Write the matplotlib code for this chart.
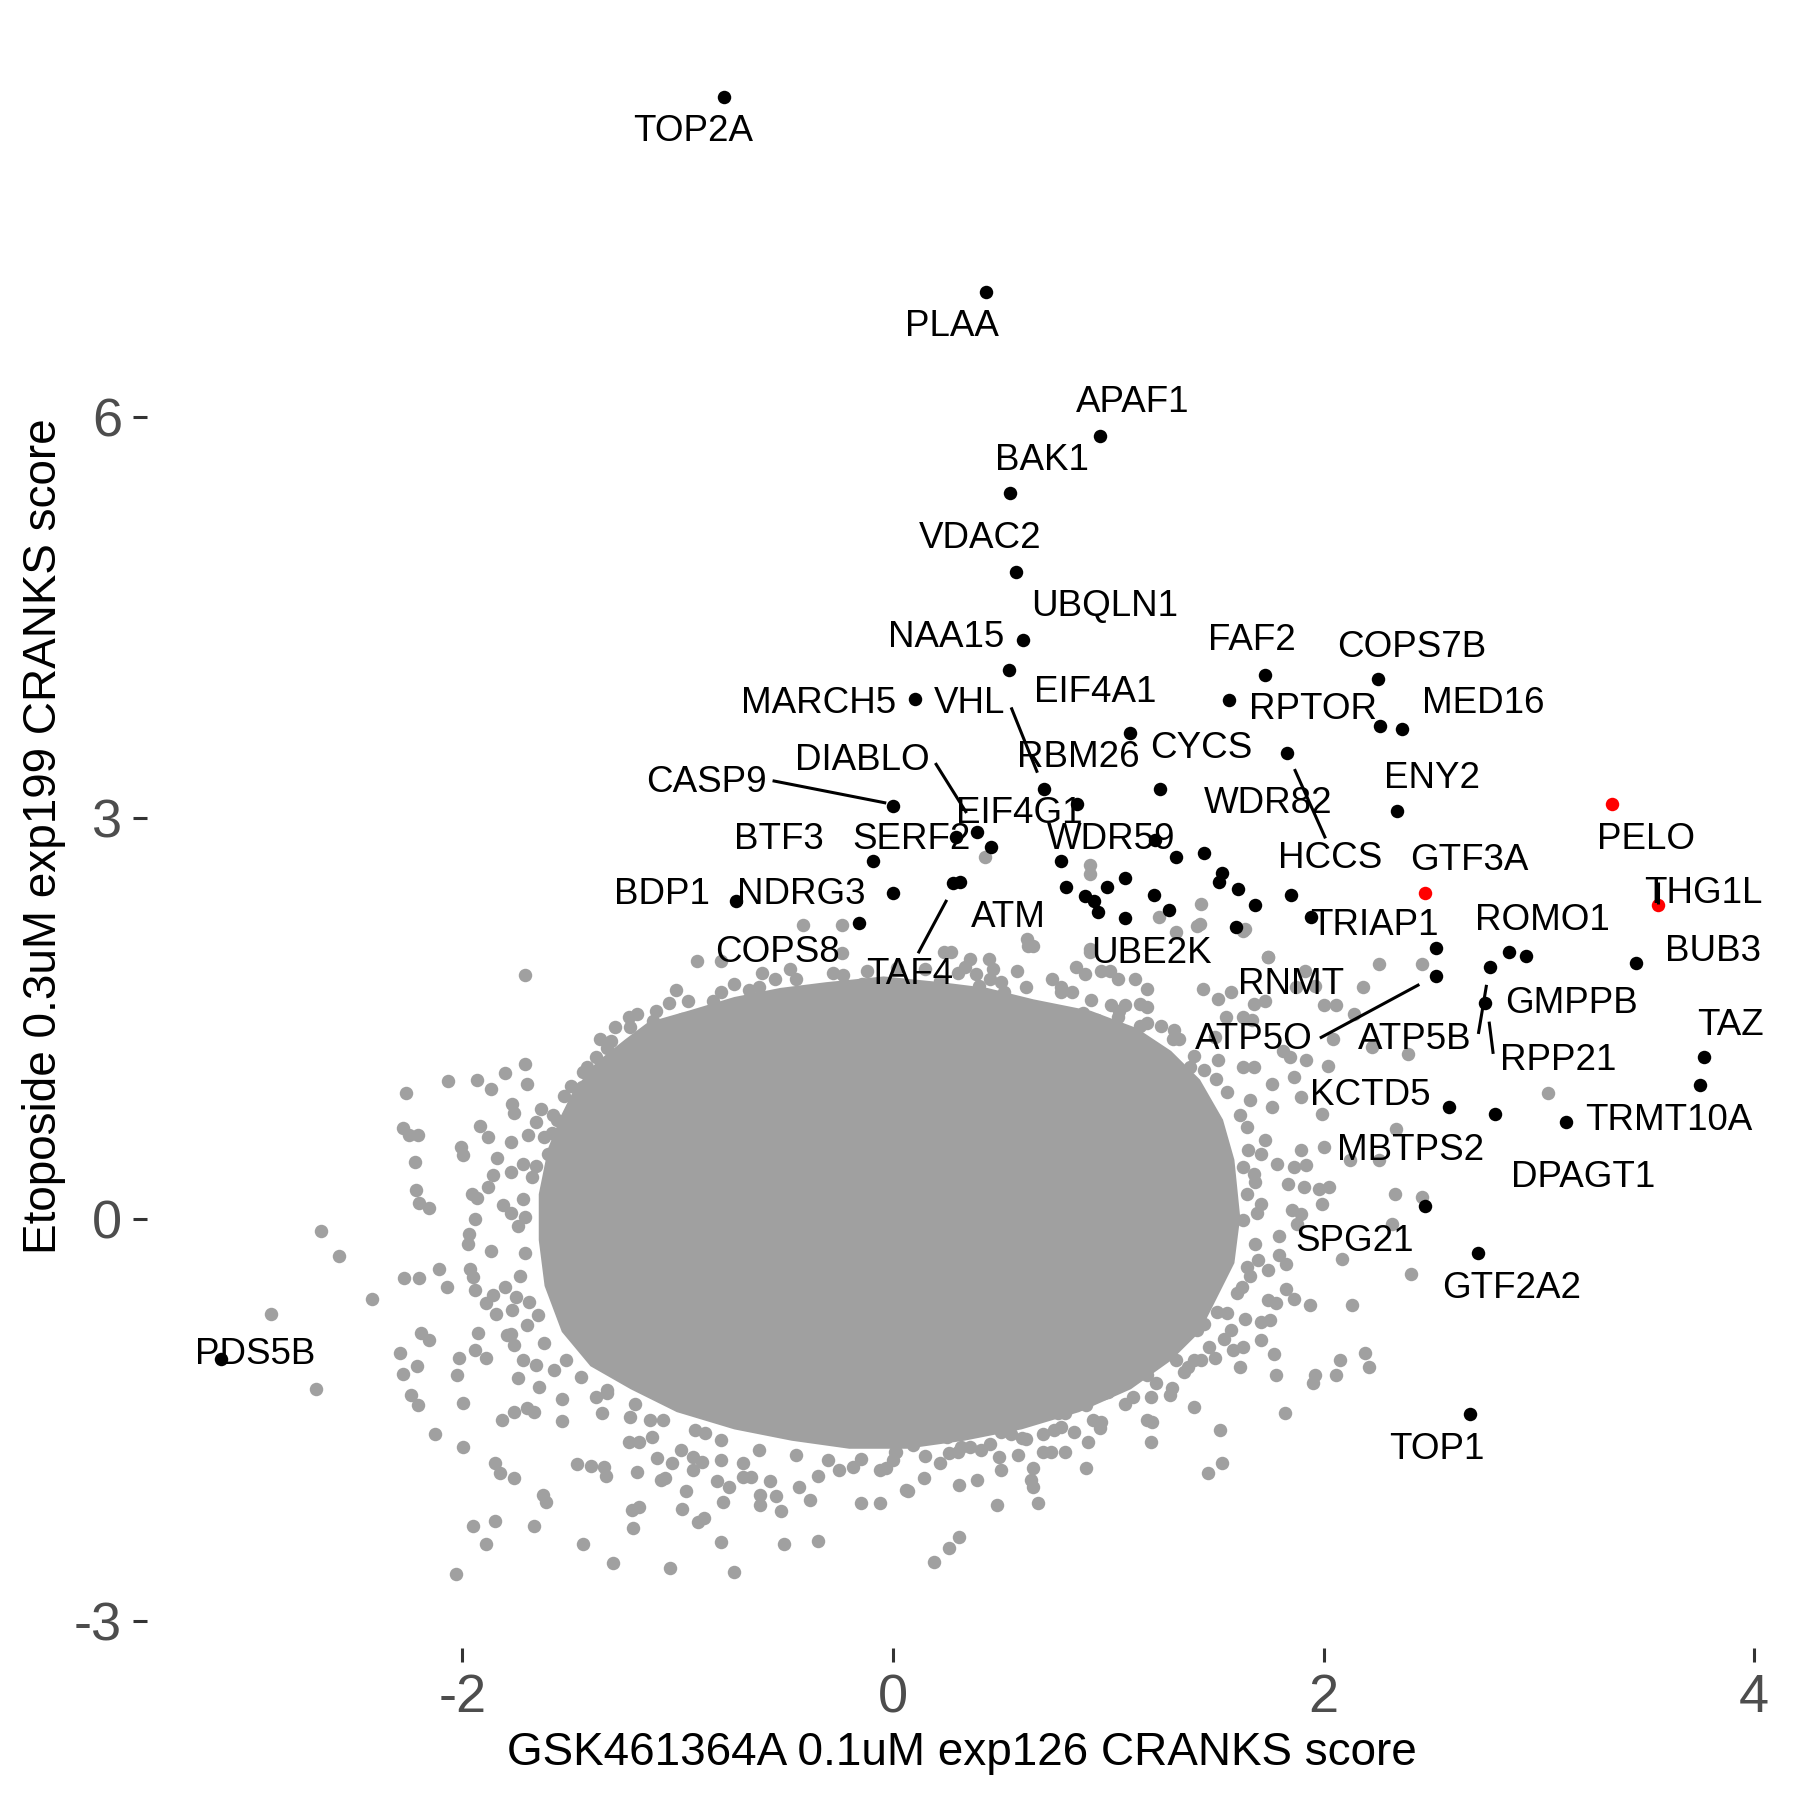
import numpy as np
import matplotlib
matplotlib.use("Agg")
import matplotlib.pyplot as plt

plt.rcParams['font.family'] = ['Liberation Sans', 'DejaVu Sans']
plt.rcParams['axes.unicode_minus'] = False

GREY = '#a0a0a0'

# genes above threshold (black points)
hit_x = [-0.785, 0.432, 0.961, 0.542, 0.57, 0.602, 0.540, 0.104, 1.73, 1.561,
         1.102, 1.832, 0.703, 0.855, 1.242, 0.001, 0.392, 0.294, 0.455, -0.093,
         1.219, 1.313, 1.443, 0.782, 1.53, 1.516, 1.601, 1.681, 1.85, 1.08,
         0.993, 0.804, 0.89, 0.934, 0.952, 1.077, 1.214, 1.281, 1.592, 0.277,
         0.31, 0.001, -0.731, -0.159, 2.251, 2.261, 2.363, 2.341, 1.943, 2.522,
         2.522, 2.862, 2.94, 2.773, 3.452, 2.75, 3.765, 3.749, 2.585, 2.798,
         3.124, 2.473, 2.718, 2.681, -3.12]
hit_y = [8.388, 6.934, 5.857, 5.428, 4.84, 4.335, 4.109, 3.892, 4.074, 3.887,
         3.636, 3.49, 3.215, 3.106, 3.215, 3.093, 2.90, 2.862, 2.787, 2.683,
         2.837, 2.712, 2.74, 2.683, 2.59, 2.526, 2.471, 2.354, 2.426, 2.553,
         2.488, 2.488, 2.421, 2.384, 2.297, 2.252, 2.426, 2.314, 2.19, 2.515,
         2.52, 2.438, 2.38, 2.214, 4.037, 3.686, 3.666, 3.054, 2.259, 2.033,
         1.821, 2.003, 1.971, 1.891, 1.921, 1.62, 1.217, 1.003, 0.84, 0.789,
         0.729, 0.1, -0.249, -1.457, -1.044]

# highlighted genes (red points)
red_x = [3.342, 2.471, 3.552]
red_y = [3.103, 2.444, 2.352]

# gene labels
lab_text = ['TOP2A', 'PLAA', 'APAF1', 'BAK1', 'VDAC2', 'UBQLN1', 'NAA15', 'COPS7B',
            'FAF2', 'MED16', 'RPTOR', 'MARCH5', 'VHL', 'EIF4A1', 'CYCS', 'RBM26',
            'DIABLO', 'CASP9', 'ENY2', 'WDR82', 'EIF4G1', 'PELO', 'BTF3', 'SERF2',
            'WDR59', 'HCCS', 'GTF3A', 'THG1L', 'BDP1', 'NDRG3', 'ATM', 'TRIAP1',
            'ROMO1', 'BUB3', 'COPS8', 'UBE2K', 'TAF4', 'RNMT', 'GMPPB', 'TAZ',
            'ATP5O', 'ATP5B', 'RPP21', 'KCTD5', 'TRMT10A', 'MBTPS2', 'DPAGT1',
            'SPG21', 'GTF2A2', 'PDS5B', 'TOP1']
lab_x = [-0.928, 0.272, 1.114, 0.694, 0.407, 0.983, 0.246, 2.409,
         1.666, 2.74, 1.949, -0.347, 0.358, 0.94, 1.431, 0.86,
         -0.144, -0.865, 2.505, 1.741, 0.587, 3.498, -0.529, 0.085,
         1.015, 2.029, 2.675, 3.765, -1.073, -0.427, 0.534, 2.238,
         3.017, 3.808, -0.534, 1.202, 0.08, 1.848, 3.151, 3.888,
         1.677, 2.425, 3.092, 2.216, 3.605, 2.403, 3.204,
         2.142, 2.873, -2.964, 2.526]
lab_y = [8.13, 6.673, 6.105, 5.677, 5.093, 4.585, 4.354, 4.277,
         4.328, 3.857, 3.814, 3.857, 3.857, 3.943, 3.523, 3.454,
         3.428, 3.266, 3.30, 3.111, 3.034, 2.837, 2.837, 2.837,
         2.837, 2.70, 2.683, 2.434, 2.426, 2.426, 2.254, 2.194,
         2.237, 2.006, 1.997, 1.989, 1.834, 1.757, 1.611, 1.449,
         1.346, 1.346, 1.191, 0.926, 0.737, 0.514, 0.317,
         -0.163, -0.514, -1.011, -1.723]

# label leader lines (x0, y0, x1, y1)
seg = [(0.549, 3.828, 0.671, 3.34), (-0.559, 3.28, -0.031, 3.113),
       (0.197, 3.412, 0.342, 3.039), (0.25, 2.389, 0.117, 1.99),
       (1.865, 3.367, 2.009, 2.849), (1.983, 1.356, 2.445, 1.757),
       (2.757, 1.754, 2.719, 1.387), (2.769, 1.479, 2.788, 1.238),
       (3.552, 2.52, 3.552, 2.36)]

# outline of the saturated centre of the gray cloud
core_x = [-1.645, -1.602, -1.538, -1.485, -1.378, -1.244, -1.138, -0.951, -0.737, -0.523,
          -0.31, -0.043, 0.224, 0.438, 0.652, 0.919, 1.132, 1.292, 1.426, 1.533,
          1.586, 1.613, 1.586, 1.506, 1.426, 1.292, 1.105, 0.865, 0.598, 0.331,
          0.064, -0.203, -0.47, -0.737, -1.004, -1.218, -1.405, -1.538, -1.618, -1.645]
core_y = [0.189, 0.531, 0.789, 0.96, 1.174, 1.346, 1.474, 1.56, 1.663, 1.731,
          1.774, 1.817, 1.774, 1.731, 1.646, 1.56, 1.431, 1.26, 1.046, 0.746,
          0.446, 0.017, -0.326, -0.583, -0.84, -1.054, -1.269, -1.44, -1.569, -1.654,
          -1.714, -1.714, -1.654, -1.569, -1.44, -1.269, -1.097, -0.84, -0.497, -0.154]

# genes crowding the rim of the centre
gray_rim = [
    (-1.72, 0.15), (-1.74, -0.05), (-1.71, -0.25), (-1.73, -0.42), (-1.69, -0.62),
    (-1.66, 0.40), (-1.62, 0.62), (-1.62, -0.92), (-1.52, -1.05), (-1.45, -1.18),
    (-1.33, -1.30), (-1.20, -1.38), (-1.07, -1.50), (-0.92, -1.57), (-0.80, -1.65),
    (-0.62, -1.72), (-0.45, -1.76), (-0.30, -1.80), (-0.15, -1.79), (0.0, -1.80),
    (0.15, -1.77), (0.30, -1.74), (0.45, -1.68), (0.62, -1.64), (0.78, -1.55),
    (0.93, -1.50), (1.08, -1.38), (1.22, -1.22), (1.35, -1.14), (1.47, -0.95),
    (1.55, -0.70), (1.60, -0.55), (1.66, -0.42), (1.68, -0.18), (1.69, 0.05),
    (1.68, 0.28), (1.65, 0.52), (1.61, 0.78), (1.55, 0.95), (1.50, 1.05),
    (1.40, 1.22), (1.30, 1.35), (1.18, 1.47), (1.05, 1.56), (0.92, 1.64),
    (0.78, 1.70), (0.62, 1.74), (0.45, 1.80), (0.30, 1.84), (0.15, 1.87),
    (0.02, 1.88), (-0.12, 1.86), (-0.28, 1.84), (-0.45, 1.80), (-0.62, 1.74),
    (-0.80, 1.70), (-0.95, 1.63), (-1.10, 1.56), (-1.22, 1.44), (-1.33, 1.28),
    (-1.44, 1.10), (-1.53, 0.92), (-1.58, 0.78),
]

# scattered gray genes around the centre
gray_upper_left = [
    (-1.709, 1.824), (-0.91, 1.93), (-0.797, 1.93), (-0.419, 2.205), (-0.236, 2.205),
    (-0.236, 1.99), (-0.606, 1.841), (-0.478, 1.873), (-0.739, 1.762), (-0.548, 1.80),
    (-0.233, 1.824), (-0.142, 1.762), (-1.009, 1.717), (-0.838, 1.637), (-0.668, 1.712),
    (-0.403, 1.692), (-0.558, 1.612), (-1.038, 1.617), (-0.98, 1.50), (-1.187, 1.537),
    (-1.228, 1.512), (-1.291, 1.442), (-1.361, 1.35), (-1.311, 1.333), (-1.115, 1.487),
    (-1.07, 1.412), (-0.865, 1.437), (-0.797, 1.487), (-0.706, 1.412), (-1.378, 1.214),
    (-1.419, 1.139), (-1.494, 0.997), (-1.444, 0.99), (-1.286, 1.09), (-1.179, 1.09),
    (-1.245, 0.99), (-1.195, 0.965), (-1.105, 0.99), (-1.709, 1.164), (-1.8, 1.097),
    (-1.93, 1.04), (-1.867, 0.978), (-1.7, 1.015), (-2.066, 1.035), (-2.26, 0.947),
    (-2.277, 0.686), (-2.247, 0.629), (-2.208, 0.629), (-2.221, 0.43), (-2.215, 0.223),
    (-2.2, 0.123), (-2.153, 0.088), (-1.767, 0.865), (-1.762, 0.795), (-1.916, 0.696),
    (-1.883, 0.617), (-2.005, 0.54), (-1.995, 0.48), (-1.775, 0.579), (-1.697, 0.629),
    (-1.659, 0.729), (-1.634, 0.828), (-1.838, 0.462), (-1.717, 0.417), (-1.858, 0.33),
    (-1.775, 0.355), (-1.676, 0.318), (-1.883, 0.242), (-1.957, 0.193), (-1.933, 0.163),
    (-1.809, 0.11), (-1.775, 0.05), (-1.942, 0.006), (-1.967, -0.111), (-1.709, 0.021),
    (-1.56, 0.741), (-1.504, 0.753), (-1.585, 0.65), (-1.52, 0.6), (-1.6, 0.49),
    (-1.378, 0.69), (-1.336, 0.828), (-2.658, -0.085), (-2.575, -0.276),
]
gray_upper_right = [
    (0.235, 1.998), (0.268, 1.998), (0.359, 1.948), (0.447, 1.948), (0.625, 2.047),
    (0.575, 1.86), (0.334, 1.886), (0.384, 1.836), (0.467, 1.873), (0.5, 1.774),
    (0.4, 1.749), (0.218, 1.786), (0.301, 1.662), (0.483, 1.662), (0.517, 1.699),
    (0.583, 1.599), (0.658, 1.525), (0.741, 1.799), (0.782, 1.736), (0.848, 1.886),
    (0.89, 1.836), (0.832, 1.699), (0.915, 1.998), (0.965, 1.86), (1.006, 1.86),
    (1.047, 1.799), (1.122, 1.799), (1.18, 1.724), (0.881, 1.54), (0.948, 1.49),
    (1.047, 1.515), (1.014, 1.6), (1.08, 1.6), (1.147, 1.612), (1.18, 1.587),
    (0.766, 1.515), (1.147, 1.45), (1.247, 1.45), (1.305, 1.413), (1.33, 1.351),
    (1.213, 1.263), (1.442, 1.724), (1.512, 1.649), (1.57, 1.699), (1.744, 1.961),
    (1.628, 2.16), (1.413, 2.197), (2.258, 1.911), (2.458, 1.911), (2.184, 1.736),
    (2.0, 1.6), (2.059, 1.6), (2.143, 1.537), (1.678, 1.612), (1.728, 1.637),
    (1.545, 1.515), (1.628, 1.515), (1.67, 1.49), (1.495, 1.363), (1.81, 1.263),
    (1.844, 1.214), (1.918, 1.189), (2.044, 1.351), (2.019, 1.151), (2.225, 1.289),
    (2.391, 1.239), (1.379, 1.139), (1.446, 1.114), (1.512, 1.189), (1.628, 1.139),
    (1.678, 1.139), (1.761, 1.015), (1.761, 0.84), (1.861, 1.065), (1.894, 0.915),
    (1.658, 0.89), (1.994, 0.791), (2.335, 0.679), (2.002, 0.542), (1.894, 0.517),
    (1.786, 0.417), (1.861, 0.393), (1.918, 0.405), (2.125, 0.443), (2.258, 0.443),
    (1.836, 0.268), (1.911, 0.243), (1.977, 0.23), (2.027, 0.243), (2.332, 0.193),
    (2.458, 0.168), (1.852, 0.068), (1.894, 0.043), (1.994, 0.118), (1.645, 0.691),
    (1.728, 0.592), (1.711, 0.492), (1.628, 0.393), (1.678, 0.343), (1.878, -0.032),
    (2.317, -0.032), (1.645, 0.193), (1.711, 0.118), (1.562, 0.043), (1.628, -0.007),
    (1.794, -0.12), (0.428, 2.708), (0.917, 2.653), (0.917, 2.586), (1.432, 2.362),
    (1.236, 2.26), (1.428, 2.21), (1.317, 2.15), (1.636, 2.172), (1.743, 1.96),
    (0.623, 2.098), (0.65, 2.048), (0.913, 2.023), (1.914, 1.861), (1.87, 1.736),
    (1.959, 1.749), (3.042, 0.942),
]
gray_lower_right = [
    (2.084, -0.292), (2.408, -0.404), (2.134, -0.64), (1.935, -0.64), (1.827, -0.516),
    (1.861, -0.591), (1.744, -0.604), (1.778, -0.628), (2.192, -0.997), (2.209, -1.101),
    (2.076, -1.047), (2.059, -1.164), (1.96, -1.164), (1.952, -1.226), (1.819, -1.445),
    (1.778, -1.164), (1.769, -1.002), (1.611, -1.101), (1.495, -1.032), (1.396, -1.4),
    (1.52, -1.574), (1.528, -1.818), (1.462, -1.898), (1.296, -1.263), (1.288, -1.313),
    (1.197, -1.325), (1.18, -1.164), (1.18, -1.5), (1.205, -1.512), (1.197, -1.661),
    (1.396, -1.052), (1.048, -1.226), (0.998, -1.288), (1.114, -1.325), (1.01, -1.121),
    (0.89, -1.375), (0.965, -1.512), (0.961, -1.562), (0.84, -1.587), (0.906, -1.661),
    (0.898, -1.861), (0.765, -1.45), (0.799, -1.45), (0.699, -1.6), (0.749, -1.574),
    (0.799, -1.736), (0.699, -1.736), (0.732, -1.736), (0.65, -1.861), (0.641, -1.948),
    (0.65, -1.998), (0.674, -2.122), (0.583, -1.761), (0.6, -1.637), (0.55, -1.6),
    (0.5, -1.587), (0.492, -1.773), (0.5, -1.873), (0.484, -2.135), (0.409, -1.724),
    (0.359, -1.699), (0.318, -1.699), (0.392, -1.948), (0.309, -1.985), (0.26, -1.749),
    (0.218, -1.823), (0.251, -1.624), (0.144, -1.935), (0.061, -2.022), (0.094, -1.686),
    (0.011, -1.736), (0.309, -2.371), (0.26, -2.458), (0.193, -2.558), (1.57, -0.828),
    (1.537, -0.89), (1.637, -0.741), (1.711, -0.766), (1.753, -0.753), (1.711, -0.903),
    (1.628, -0.952), (1.578, -0.977), (1.62, -0.504), (1.645, -0.355), (1.695, -0.305),
    (1.744, -0.38), (1.794, -0.268), (1.827, -0.33), (1.313, -1.052), (1.371, -1.101),
    (1.429, -1.052), (1.503, -0.691), (1.446, -0.64), (1.413, -0.828), (1.446, -0.778),
    (1.13, -1.002), (0.981, -1.3), (1.014, -1.25), (0.898, -1.387), (0.848, -1.325),
]
gray_lower_left = [
    (-2.419, -0.598), (-2.27, -0.434), (-2.199, -0.434), (-2.107, -0.367), (-2.07, -0.504),
    (-1.974, -0.185), (-1.866, -0.235), (-1.966, -0.367), (-1.949, -0.429), (-1.941, -0.529),
    (-2.19, -0.852), (-2.157, -0.902), (-2.289, -0.997), (-2.276, -1.156), (-2.21, -1.096),
    (-2.24, -1.313), (-2.207, -1.388), (-2.129, -1.607), (-1.999, -1.375), (-1.999, -1.699),
    (-2.016, -1.039), (-2.024, -1.164), (-1.941, -0.977), (-1.892, -1.039), (-1.925, -0.847),
    (-1.892, -0.628), (-1.858, -0.566), (-1.842, -0.703), (-1.767, -0.678), (-1.8, -0.504),
    (-1.751, -0.579), (-1.792, -0.866), (-1.775, -0.853), (-1.758, -0.941), (-1.7, -0.79),
    (-1.649, -0.715), (-1.742, -1.188), (-1.717, -1.052), (-1.659, -1.089), (-1.576, -1.126),
    (-1.642, -1.25), (-1.817, -1.5), (-1.759, -1.437), (-1.701, -1.412), (-1.668, -1.437),
    (-1.538, -1.345), (-1.538, -1.505), (-1.848, -1.823), (-1.826, -1.893), (-1.759, -1.935),
    (-1.627, -2.06), (-1.61, -2.109), (-1.95, -2.291), (-1.85, -2.251), (-1.668, -2.289),
    (-1.892, -2.428), (-2.03, -2.652), (-1.469, -1.828), (-1.402, -1.843), (-1.344, -1.853),
    (-1.331, -1.918), (-1.439, -2.428), (-1.298, -2.57), (-1.037, -2.607), (-0.739, -2.637),
    (-0.797, -2.409), (-0.507, -2.426), (-0.349, -2.401), (-0.147, -2.122), (-0.059, -2.122),
    (0.07, -2.027), (-1.211, -2.172), (-1.181, -2.147), (-1.208, -2.309), (-1.187, -1.886),
    (-1.079, -1.948), (-1.059, -1.935), (-0.979, -2.167), (-0.963, -2.027), (-0.905, -2.259),
    (-0.877, -2.234), (-0.817, -1.953), (-0.761, -1.997), (-0.789, -2.109), (-0.698, -1.928),
    (-0.657, -1.928), (-0.619, -2.06), (-0.619, -2.135), (-0.569, -1.953), (-0.541, -2.067),
    (-0.519, -2.177), (-0.435, -1.997), (-0.387, -2.097), (-0.349, -1.918), (-0.698, -1.818),
    (-0.797, -1.798), (-0.929, -1.873), (-0.888, -1.81), (-0.25, -1.873), (-0.184, -1.848),
    (-0.059, -1.873), (-0.034, -1.861), (0.016, -1.736), (-1.228, -1.661), (-1.178, -1.661),
    (-1.12, -1.624), (-1.094, -1.786), (-1.028, -1.823), (-0.986, -1.724), (-0.929, -1.773),
    (-0.871, -1.594), (-1.219, -1.475), (-1.128, -1.5), (-1.349, -1.445), (-1.377, -1.325),
    (-1.328, -1.276), (-2.889, -0.706), (-2.68, -1.264),
]

gray = np.array(gray_rim + gray_upper_left + gray_upper_right +
                gray_lower_right + gray_lower_left)

fig = plt.figure(figsize=(18, 18), dpi=100)
ax = fig.add_axes([0.0817, 0.0844, 0.9059, 0.9025])

# gray cloud
ax.fill(core_x, core_y, color=GREY, lw=0, zorder=1)
ax.scatter(gray[:, 0], gray[:, 1], s=94, color=GREY, lw=0, zorder=2)

# hits
ax.scatter(hit_x, hit_y, s=94, color='black', lw=0, zorder=3)
ax.scatter(red_x, red_y, s=94, color='red', lw=0, zorder=4)

for x0, y0, x1, y1 in seg:
    ax.plot([x0, x1], [y0, y1], color='black', lw=2.2, zorder=5, solid_capstyle='butt')
for t, x, y in zip(lab_text, lab_x, lab_y):
    ax.text(x, y, t, fontsize=26.5, ha='center', va='center', zorder=6)

# limits like ggplot's 5% expansion
all_x = np.concatenate([gray[:, 0], hit_x, red_x])
all_y = np.concatenate([gray[:, 1], hit_y, red_y])
dx = (all_x.max() - all_x.min()) * 0.05
dy = (all_y.max() - all_y.min()) * 0.05
ax.set_xlim(all_x.min() - dx, all_x.max() + dx)
ax.set_ylim(all_y.min() - dy, all_y.max() + dy)

ax.set_xticks([-2, 0, 2, 4])
ax.set_yticks([-3, 0, 3, 6])
for s in ax.spines.values():
    s.set_visible(False)
ax.tick_params(length=10, width=2.2, color='#333333', labelcolor='#4d4d4d',
               labelsize=39, pad=8)
ax.set_xlabel('GSK461364A 0.1uM exp126 CRANKS score', fontsize=33, labelpad=6)
ax.set_ylabel('Etoposide 0.3uM exp199 CRANKS score', fontsize=33, labelpad=6)

fig.savefig('out.png', dpi=100)
